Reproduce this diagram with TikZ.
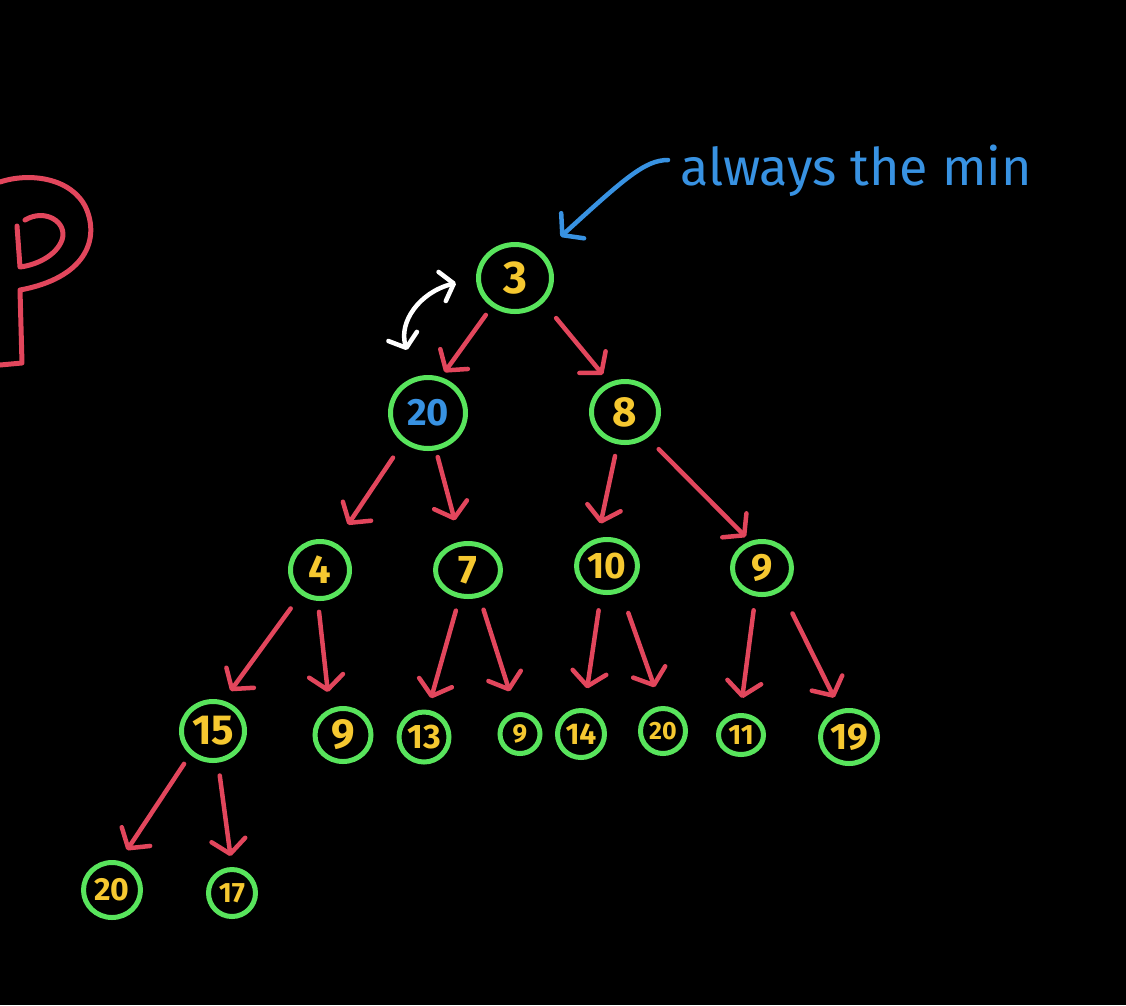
\documentclass[tikz,border=0pt]{standalone}
\usepackage{fontspec}
\setmainfont{Fira Sans}
\usetikzlibrary{arrows.meta,shapes.geometric}
\definecolor{hgreen}{RGB}{88,228,92}
\definecolor{hred}{RGB}{226,70,92}
\definecolor{hyellow}{RGB}{246,200,48}
\definecolor{hblue}{RGB}{56,146,226}
\begin{document}
\begin{tikzpicture}[x=1pt,y=-1pt,
  heap/.style={ellipse, draw=hgreen, line width=5pt, inner sep=0pt, text=hyellow},
  hn/.style n args={3}{heap, minimum width=#1pt, minimum height=#2pt, font=\fontsize{#3pt}{#3pt}\selectfont\bfseries},
  edge/.style={draw=hred, line width=4.5pt, line cap=round, -{Straight Barb[length=14pt,width=34pt,round]}},
  pen/.style={line width=5pt, line cap=round, line join=round},
]
\fill[black] (0,0) rectangle (1126,1005);
\useasboundingbox (0,0) rectangle (1126,1005);

% the letter P (cut off at the left edge)
\draw[pen, hred] (0,182) .. controls (30,172) and (72,178) .. (86,208)
  .. controls (100,240) and (85,278) .. (20,290) -- (22,363) -- (0,365);
\draw[pen, hred] (25,220) .. controls (45,208) and (68,222) .. (62,240)
  .. controls (56,256) and (36,265) .. (20,267) -- (17,226);

% nodes
\node[hn={73}{67}{46}] (n3) at (515,278) {3};
\node[hn={75}{71}{38}, text=hblue] (n20) at (428,413) {20};
\node[hn={67}{61}{42}] (n8) at (625,412) {8};
\node[hn={59}{57}{40}] (n4) at (320,570) {4};
\node[hn={65}{53}{40}] (n7) at (468,570) {7};
\node[hn={61}{53}{37}] (n10) at (607,566) {10};
\node[hn={59}{53}{38}] (n9a) at (762,568) {9};
\node[hn={63}{59}{42}] (n15) at (213,731) {15};
\node[hn={56}{53}{42}] (n9b) at (343,735) {9};
\node[hn={50}{50}{34}] (n13) at (424,737) {13};
\node[hn={40}{39}{26}] (n9c) at (520,734) {9};
\node[hn={47}{47}{30}] (n14) at (581,734) {14};
\node[hn={45}{45}{25}] (n20b) at (663,731) {20};
\node[hn={45}{39}{28}] (n11) at (741,735) {11};
\node[hn={57}{53}{37}] (n19) at (849,737) {19};
\node[hn={57}{55}{32}] (n20c) at (112,890) {20};
\node[hn={47}{47}{28}] (n17) at (232,893) {17};

% edges
\draw[edge, shorten <=10pt, shorten >=6pt]  (n3.-129) -- (n20.70);
\draw[edge, shorten <=20pt, shorten >=10pt] (n3.-41) -- (n8.118);
\draw[edge, shorten <=18pt, shorten >=22pt] (n20.-130) -- (n4.60);
\draw[edge, shorten <=7pt, shorten >=22pt]  (n20.-78) -- (n7.105);
\draw[edge, shorten <=12pt, shorten >=15pt] (n8.-103) -- (n10.109);
\draw[edge, shorten <=16pt, shorten >=6pt]  (n8.-49) -- (n9a.114);
\draw[edge, shorten <=17pt, shorten >=12pt] (n4.-128) -- (n15.71);
\draw[edge, shorten <=11pt, shorten >=17pt] (n4.-94) -- (n9b.117);
\draw[edge, shorten <=13pt, shorten >=12pt] (n7.-107) -- (n13.82);
\draw[edge, shorten <=13pt, shorten >=22pt] (n7.-67) -- (n9c.100);
\draw[edge, shorten <=16pt, shorten >=20pt] (n10.-102) -- (n14.83);
\draw[edge, shorten <=22pt, shorten >=20pt] (n10.-62) -- (n20b.94);
\draw[edge, shorten <=14pt, shorten >=15pt] (n9a.-103) -- (n11.92);
\draw[edge, shorten <=25pt, shorten >=13pt] (n9a.-50) -- (n19.108);
\draw[edge, shorten <=11pt, shorten >=13pt] (n15.-134) -- (n20c.75);
\draw[edge, shorten <=13pt, shorten >=11pt] (n15.-81) -- (n17.90);

% swap indicator
\coordinate (swapB) at (407,350);
\coordinate (swapA) at (456,283);
\draw[white, line width=4.5pt, line cap=round,
  {Straight Barb[length=12pt,width=30pt,round]}-{Straight Barb[length=12pt,width=30pt,round]}]
  (swapB) .. controls (398,322) and (420,292) .. (swapA);

% annotation
\node[anchor=base west, text=hblue, font=\fontsize{52pt}{52pt}\selectfont, inner sep=0pt]
  (lbl) at (680,185) {always the min};
\coordinate (bstart) at (668,160);
\draw[hblue, line width=4.5pt, line cap=round, shorten >=24pt,
  -{Straight Barb[length=14pt,width=34pt,round]}]
  (bstart) .. controls (645,160) and (625,178) .. (n3.42);
\end{tikzpicture}
\end{document}
